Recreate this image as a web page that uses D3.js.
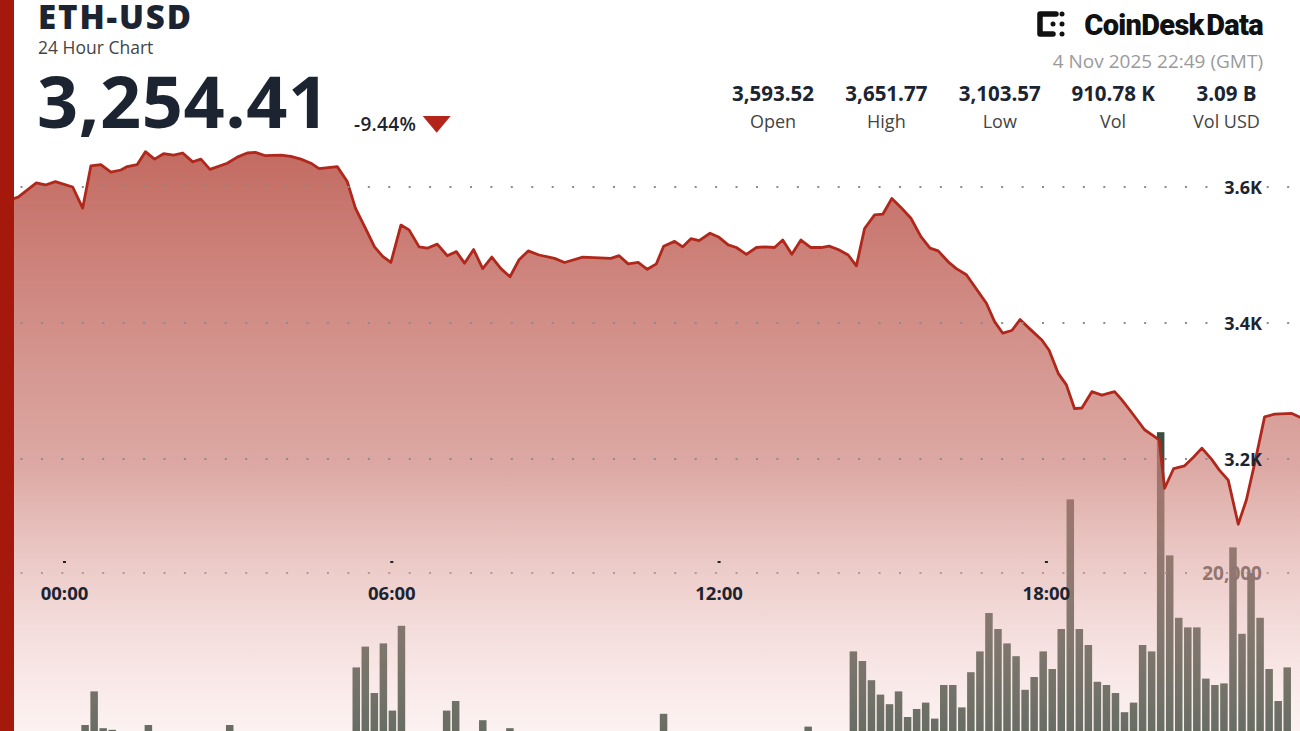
<!DOCTYPE html>
<html>
<head>
<meta charset="utf-8">
<script src="https://cdn.jsdelivr.net/npm/d3@7"></script>
<style>
  body { margin: 0; background: #fff; }
  svg { display: block; font-family: "Open Sans", "Noto Sans", sans-serif; }
</style>
</head>
<body>
<svg id="chart"></svg>
<script>
// price samples, minutes from 00:00 (negative = previous day)
const priceMinutes = [-71,-56,-51,-31,-21,-10,9,20,29,40,51,62,69,80,89,99,109,120,130,141,150,160,179,190,201,210,221,238,249,260,271,280,300,311,320,330,341,350,359,370,379,390,399,410,421,431,440,450,460,470,480,490,500,510,522,539,550,570,601,610,620,631,641,651,659,671,680,689,698,710,720,730,739,750,761,770,781,790,800,810,821,832,841,851,862,871,880,891,900,910,920,931,942,952,961,972,981,992,1003,1014,1023,1032,1042,1051,1062,1075,1083,1093,1102,1111,1119,1130,1141,1155,1163,1174,1188,1199,1204,1210,1220,1232,1242,1251,1262,1270,1280,1291,1300,1310,1320,1331,1350,1361,1369];
const prices = [3593,3583,3585,3606,3603,3608,3600,3569,3631,3633,3622,3625,3630,3633,3652,3641,3649,3647,3650,3637,3641,3626,3635,3644,3650,3651,3646,3647,3645,3641,3635,3627,3630,3608,3569,3542,3512,3498,3489,3544,3537,3512,3510,3516,3499,3505,3488,3508,3480,3497,3480,3468,3493,3506,3500,3495,3489,3497,3495,3499,3487,3489,3479,3487,3513,3520,3512,3524,3521,3532,3526,3515,3511,3501,3511,3512,3511,3522,3501,3522,3511,3511,3513,3508,3500,3484,3539,3559,3560,3583,3570,3554,3527,3510,3506,3490,3480,3471,3450,3429,3402,3385,3389,3405,3391,3375,3360,3326,3309,3274,3275,3299,3294,3299,3287,3268,3243,3233,3228,3157,3186,3190,3203,3216,3199,3184,3169,3104,3140,3199,3262,3266,3267,3260,3254];

// 10-minute volume bars (ETH), 144 of them
const volumes = [
  6200,5400,7100,4800,5200,6900,8300,7600,9400,
  10500,12600,10300,10200,
  8700,7400,9100,
  10500,
  6800,5900,7300,6400,5600,8200,7800,6100,
  10500,
  7700,6300,5800,4900,5500,6600,7200,5300,4700,6000,7900,8800,9600,
  14100,15400,12500,15600,11400,16700,
  9800,9200,8600,9700,
  11400,12000,
  9300,8400,
  10800,
  8900,9500,
  10300,
  8100,7500,6800,7000,6200,5700,6400,7100,6900,5800,6300,7400,8000,7200,8600,9300,
  11200,
  9000,8200,7600,7900,8500,7300,6700,7000,7800,8300,7500,8800,9200,8000,9600,
  10400,
  9100,9900,9400,9800,
  15100,14500,13300,12400,11800,12600,11000,11500,11900,10900,
  13000,13000,11600,13800,15100,17500,16500,15600,14800,12700,
  13500,15100,14000,16500,24600,16500,15500,13200,13000,12500,
  11300,11900,15500,15100,28800,21100,17200,16600,16600,13400,
  13000,13100,21600,16200,20000,17200,14000,12000,14100,
  9000
];

const timeTicks = [0, 360, 720, 1080];
const timeTickLabels = ["00:00", "06:00", "12:00", "18:00"];
const priceTicks = [3600, 3400, 3200];
const priceTickLabels = ["3.6K", "3.4K", "3.2K"];
const volumeTicks = [20000];
const volumeTickLabels = ["20,000"];

const statValues = ["3,593.52", "3,651.77", "3,103.57", "910.78 K", "3.09 B"];
const statNames = ["Open", "High", "Low", "Vol", "Vol USD"];

const width = 1300, height = 731;
const ink = "#1b2430";

const svg = d3.select("#chart").attr("width", width).attr("height", height);

let x = d3.scaleLinear().domain([0, 1440]).range([64.5, 64.5 + 1309.2]);
let y = d3.scaleLinear().domain([3200, 3600]).range([459, 187]);
let yVol = d3.scaleLinear().domain([0, 20000]).range([893, 573]);
let xBand = d3.scaleBand().domain(d3.range(volumes.length)).range([0, width]).paddingInner(0.17);

let points = priceMinutes.map((m, i) => ({m: m, p: prices[i]}));

// gradient for the area
let defs = svg.append("defs");
let grad = defs.append("linearGradient")
  .attr("id", "areaFill")
  .attr("gradientUnits", "userSpaceOnUse")
  .attr("x1", 0).attr("x2", 0).attr("y1", 150).attr("y2", height);
grad.append("stop").attr("offset", 0).attr("stop-color", "rgb(190,95,85)").attr("stop-opacity", 0.93);
grad.append("stop").attr("offset", 0.55).attr("stop-color", "rgb(206,132,125)").attr("stop-opacity", 0.7);
grad.append("stop").attr("offset", 1).attr("stop-color", "rgb(242,202,200)").attr("stop-opacity", 0.25);

/* volume bars sit under the translucent area */
svg.append("g").selectAll("rect")
  .data(volumes)
  .enter()
  .append("rect")
  .attr("x", (d, i) => xBand(i))
  .attr("width", xBand.bandwidth())
  .attr("y", d => yVol(d))
  .attr("height", d => yVol(0) - yVol(d))
  .attr("fill", "#3a4e41");

function dotted(g, yy) {
  g.append("line")
    .attr("x1", 20.5).attr("x2", width)
    .attr("y1", yy).attr("y2", yy)
    .attr("stroke", "#8c8c8c")
    .attr("stroke-width", 2)
    .attr("stroke-dasharray", "2 18.43");
}

let volGrid = svg.append("g");
volumeTicks.forEach((t, i) => {
  dotted(volGrid, yVol(t));
  volGrid.append("text")
    .attr("x", 1262).attr("y", yVol(t) + 7)
    .attr("text-anchor", "end")
    .attr("font-size", 19).attr("font-weight", 700)
    .attr("fill", "#3f4640")
    .text(volumeTickLabels[i]);
});

let area = d3.area()
  .x(d => x(d.m))
  .y0(height)
  .y1(d => y(d.p));

svg.append("path")
  .datum(points)
  .attr("d", area)
  .attr("fill", "url(#areaFill)");

let line = d3.line()
  .x(d => x(d.m))
  .y(d => y(d.p));

svg.append("path")
  .datum(points)
  .attr("d", line)
  .attr("fill", "none")
  .attr("stroke", "#b0271b")
  .attr("stroke-width", 2.8)
  .attr("stroke-linejoin", "round");

// price grid + labels
let grid = svg.append("g");
priceTicks.forEach((t, i) => {
  dotted(grid, y(t));
  grid.append("text")
    .attr("x", 1262).attr("y", y(t) + 7)
    .attr("text-anchor", "end")
    .attr("font-size", 18).attr("font-weight", 700)
    .attr("fill", ink)
    .text(priceTickLabels[i]);
});

// time axis
let xa = svg.append("g");
xa.selectAll("rect")
  .data(timeTicks)
  .enter()
  .append("rect")
  .attr("x", d => x(d) - 1.5)
  .attr("y", 561)
  .attr("width", 3).attr("height", 2)
  .attr("fill", "#222");
xa.selectAll("text")
  .data(timeTicks)
  .enter()
  .append("text")
  .attr("x", d => x(d))
  .attr("y", 600)
  .attr("text-anchor", "middle")
  .attr("font-size", 18.5).attr("font-weight", 700)
  .attr("fill", ink)
  .text((d, i) => timeTickLabels[i]);

// left red strip
svg.append("rect").attr("x", 0).attr("y", 0).attr("width", 14).attr("height", height).attr("fill", "#a5190d");

/* header */
let hd = svg.append("g");
hd.append("text").attr("x", 38).attr("y", 29)
  .attr("font-size", 33).attr("font-weight", 800).attr("fill", ink)
  .attr("letter-spacing", 1.9)
  .text("ETH-USD");
hd.append("text").attr("x", 38).attr("y", 54)
  .attr("font-size", 17.5).attr("fill", "#444")
  .text("24 Hour Chart");
hd.append("text").attr("x", 37).attr("y", 128)
  .attr("font-size", 72).attr("font-weight", 700).attr("fill", ink)
  .attr("letter-spacing", 0.6)
  .text("3,254.41");
hd.append("text").attr("x", 354).attr("y", 130.5)
  .attr("font-size", 19).attr("font-weight", 600).attr("fill", ink)
  .attr("letter-spacing", 0.3)
  .text("-9.44%");
hd.append("path")
  .attr("d", "M422.7,116 L450.7,116 L436.7,132.7 Z")
  .attr("fill", "#b3241a");

// logo
let logo = hd.append("g").attr("fill", "#111");
logo.append("path")
  .attr("d", "M1056,14 H1040 V34 H1053")
  .attr("fill", "none").attr("stroke", "#111")
  .attr("stroke-width", 5.5).attr("stroke-linecap", "round").attr("stroke-linejoin", "round");
[[1062, 14], [1053, 24], [1062, 24], [1062, 34]].forEach(c => {
  logo.append("circle").attr("cx", c[0]).attr("cy", c[1]).attr("r", 2.5);
});
logo.append("text").attr("x", 1263).attr("y", 35)
  .attr("text-anchor", "end")
  .attr("font-family", "Roboto, sans-serif")
  .attr("font-size", 29).attr("font-weight", 900)
  .attr("letter-spacing", -0.7)
  .attr("word-spacing", -4)
  .text("CoinDesk Data");

hd.append("text").attr("x", 1263).attr("y", 68)
  .attr("text-anchor", "end")
  .attr("font-size", 19).attr("fill", "#9a9a9a")
  .text("4 Nov 2025 22:49 (GMT)");

let statX = d3.scalePoint().domain(statNames).range([773, 1226.5]);
statNames.forEach((n, i) => {
  hd.append("text").attr("x", statX(n)).attr("y", 101)
    .attr("text-anchor", "middle")
    .attr("font-size", 20.5).attr("font-weight", 700).attr("fill", ink)
    .text(statValues[i]);
  hd.append("text").attr("x", statX(n)).attr("y", 128)
    .attr("text-anchor", "middle")
    .attr("font-size", 18).attr("fill", "#444")
    .text(n);
});
</script>
</body>
</html>
